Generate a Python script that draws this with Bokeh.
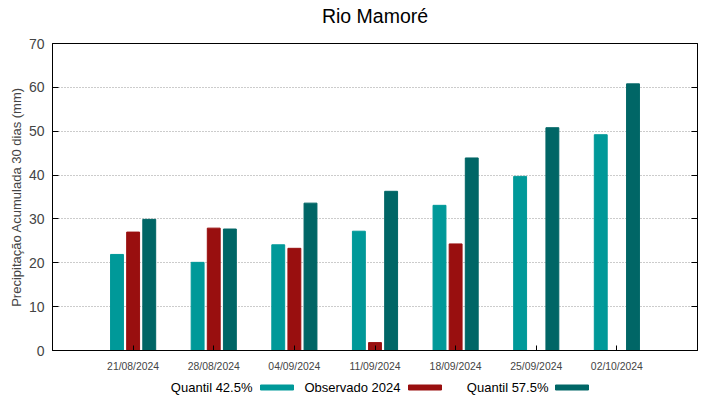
from bokeh.plotting import figure
from bokeh.layouts import column
from bokeh.models import ColumnDataSource, Range1d, FixedTicker, LinearAxis
from bokeh.transform import dodge
from bokeh.core.properties import value
from bokeh.embed import file_html
from bokeh.resources import INLINE

dates = ["21/08/2024", "28/08/2024", "04/09/2024", "11/09/2024",
         "18/09/2024", "25/09/2024", "02/10/2024"]
q425 = [21.9, 20.1, 24.1, 27.2, 33.1, 39.7, 49.2]
obs2024 = [27.0, 27.9, 23.3, 1.8, 24.3, float("nan"), float("nan")]
q575 = [29.9, 27.7, 33.6, 36.3, 43.9, 50.8, 60.8]
yticks = [0, 10, 20, 30, 40, 50, 60, 70]
series_names = ["Quantil 42.5%", "Observado 2024", "Quantil 57.5%"]
title_text = "Rio Mamoré"

C1, C2, C3 = "#009999", "#990f0f", "#006666"
colors = [C1, C2, C3]
FONT = "Liberation Sans"
W = 719
FRAME_L, FRAME_R = 52, 697   # plot frame edges in page pixels


def strip(h):
    # strip whose frame lines up with the main frame; x in page pixels
    f = figure(width=W, height=h, output_backend="svg", toolbar_location=None,
               x_range=Range1d(FRAME_L, FRAME_R), y_range=Range1d(h, 0),
               x_axis_location=None, y_axis_location=None,
               min_border=0, min_border_left=FRAME_L,
               min_border_right=W - FRAME_R,
               min_border_top=0, min_border_bottom=0)
    f.outline_line_color = None
    f.grid.grid_line_color = None
    f.background_fill_color = "white"
    f.border_fill_color = "white"
    return f


# --- title strip ---
top = strip(35)
top.text(x=[374.5], y=[15], text=[title_text], text_align="center",
         text_baseline="middle", text_font=value(FONT),
         text_font_size="19.5px", text_color="black")

# --- main chart ---
idx = list(range(len(dates)))
src = ColumnDataSource(dict(idx=idx, q425=q425, obs=obs2024, q575=q575))

p = figure(width=W, height=341, output_backend="svg", toolbar_location=None,
           x_range=Range1d(-1, len(dates)), y_range=Range1d(0, 70),
           min_border_left=FRAME_L, min_border_right=W - FRAME_R,
           min_border_top=8, min_border_bottom=26)

w = 0.16
p.vbar(x=dodge("idx", -0.2, range=p.x_range), top="q425", width=w, bottom=0,
       source=src, color=C1)
p.vbar(x=dodge("idx", 0.0, range=p.x_range), top="obs", width=w, bottom=0,
       source=src, color=C2)
p.vbar(x=dodge("idx", 0.2, range=p.x_range), top="q575", width=w, bottom=0,
       source=src, color=C3)

p.outline_line_color = "black"
p.outline_line_width = 1
p.background_fill_color = "white"
p.border_fill_color = "white"

p.xgrid.grid_line_color = None
p.ygrid.grid_line_color = "#999999"
p.ygrid.grid_line_dash = "1 2"
p.ygrid.grid_line_width = 1
p.ygrid.ticker = FixedTicker(ticks=yticks)

p.xaxis.ticker = FixedTicker(ticks=idx)
p.xaxis.major_label_overrides = {i: d for i, d in zip(idx, dates)}
p.xaxis.major_tick_in = 5
p.xaxis.major_tick_out = 0
p.xaxis.minor_tick_line_color = None
p.xaxis.major_label_text_font = FONT
p.xaxis.major_label_text_font_size = "10.4px"
p.xaxis.major_label_standoff = 10
p.xaxis.axis_line_color = "black"

p.yaxis.ticker = FixedTicker(ticks=yticks)
p.yaxis.major_tick_in = 6
p.yaxis.major_tick_out = 0
p.yaxis.minor_tick_line_color = None
p.yaxis.major_label_text_font = FONT
p.yaxis.major_label_text_font_size = "14px"
p.yaxis.major_label_standoff = 8
p.yaxis.axis_label = "Precipitação Acumulada 30 dias (mm)"
p.yaxis.axis_label_text_font = FONT
p.yaxis.axis_label_text_font_size = "13px"
p.yaxis.axis_label_text_font_style = "normal"
p.yaxis.axis_label_standoff = 2

ra = LinearAxis(ticker=FixedTicker(ticks=yticks),
                major_tick_in=6, major_tick_out=0, minor_tick_line_color=None,
                major_label_overrides={t: "" for t in yticks},
                major_label_standoff=0)
p.add_layout(ra, "right")

# --- legend strip (text, then colour sample) ---
leg = strip(23)
text_right = [252, 400, 548]
sample_left = [260, 408, 555]
sample_len = 33
leg.text(x=text_right, y=[11] * 3, text=series_names, text_align="right",
         text_baseline="middle", text_font=value(FONT), text_font_size="13px",
         text_color="black")
leg.hbar(y=[11] * 3, left=sample_left,
         right=[s + sample_len for s in sample_left], height=5,
         color=colors)

layout = column(top, p, leg, spacing=0)
open("out.html", "w").write(file_html(layout, INLINE))
